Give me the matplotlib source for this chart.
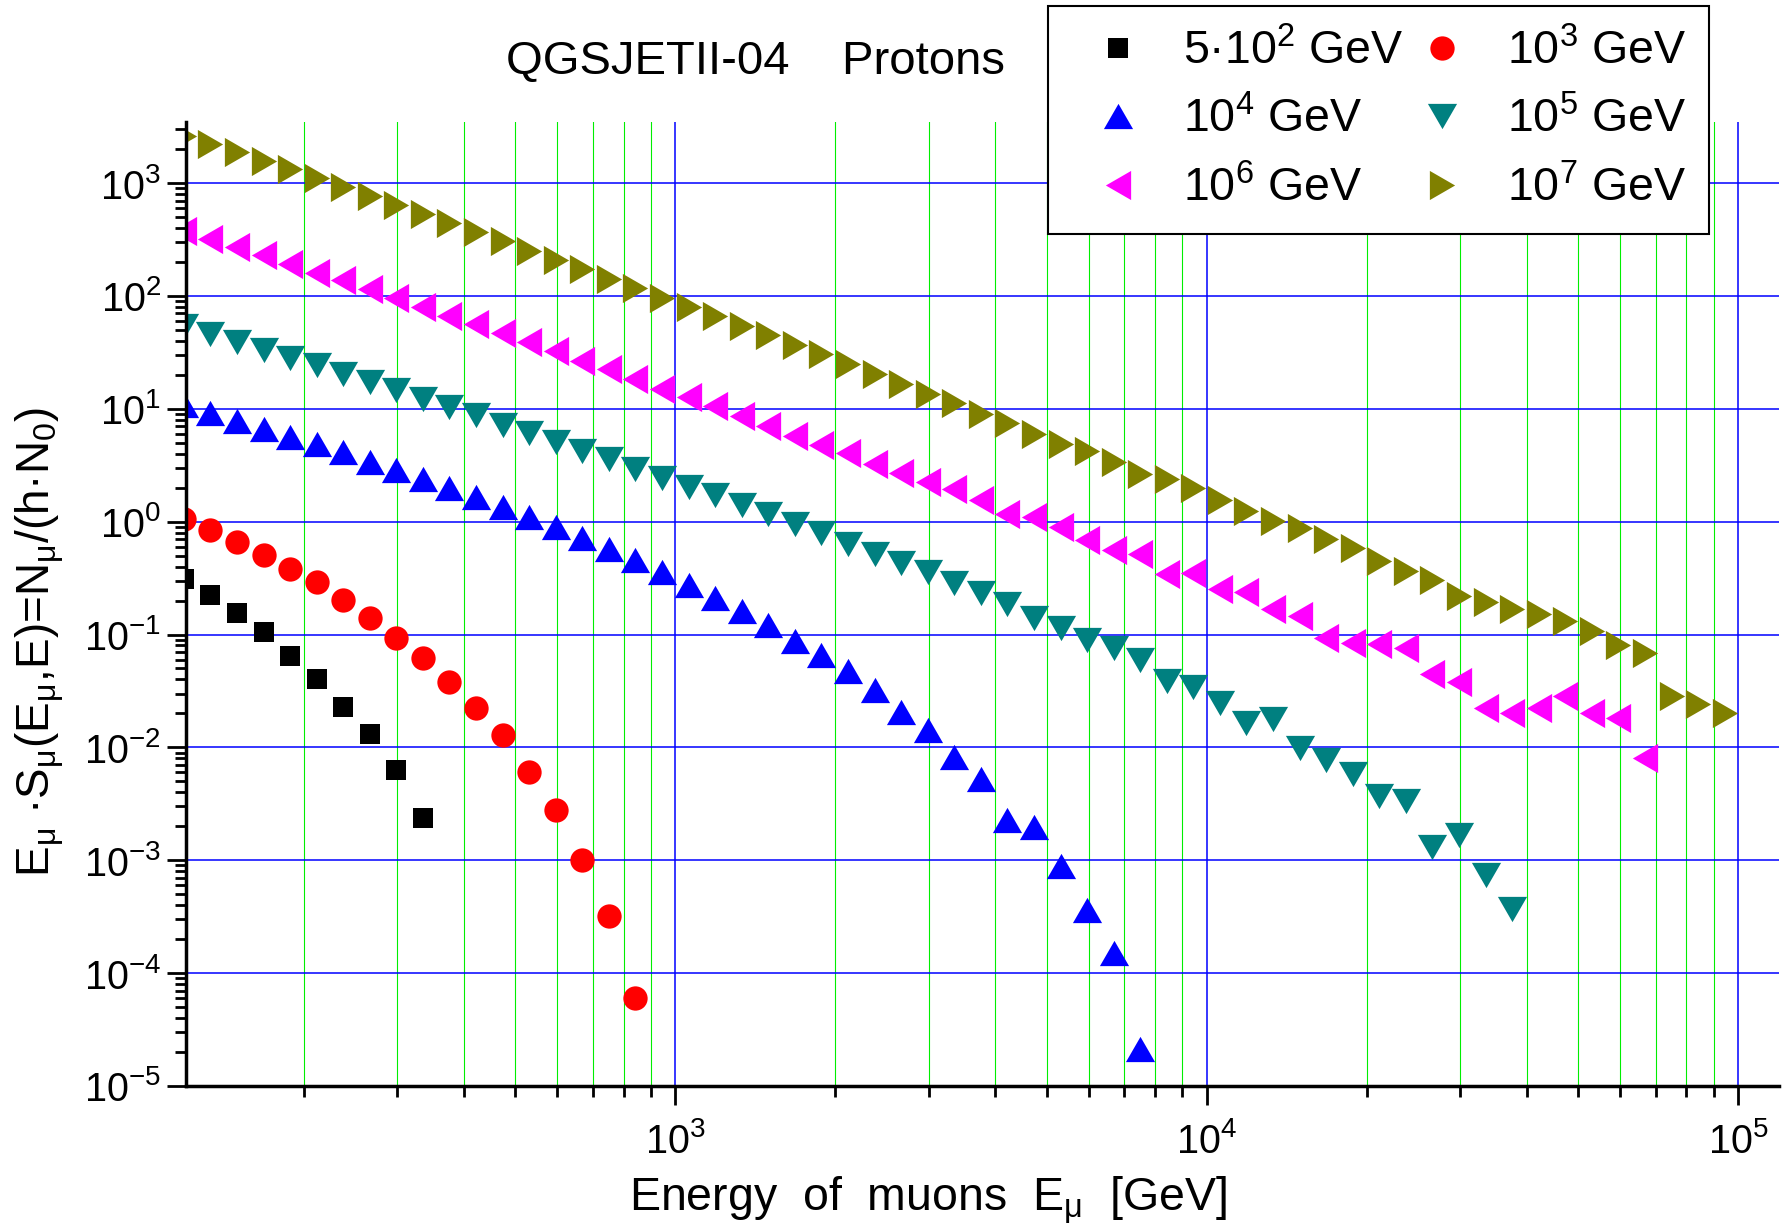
import numpy as np
import matplotlib
matplotlib.use("Agg")
import matplotlib.pyplot as plt
from matplotlib.ticker import LogLocator, NullFormatter

plt.rcParams['font.family'] = ['Liberation Sans', 'DejaVu Sans']
plt.rcParams['mathtext.fontset'] = 'custom'
plt.rcParams['mathtext.rm'] = 'Liberation Sans'
plt.rcParams['mathtext.it'] = 'Liberation Sans:italic'
plt.rcParams['mathtext.bf'] = 'Liberation Sans:bold'
plt.rcParams['axes.unicode_minus'] = False

# muon energy bins, GeV
energy = [118.9, 133.4, 149.6, 167.9, 188.4, 211.3, 237.1, 266.1, 298.5, 335.0,
          375.8, 421.7, 473.2, 530.9, 595.7, 668.3, 749.9, 841.4, 944.1, 1059.3,
          1188.5, 1333.5, 1496.2, 1678.8, 1883.6, 2113.5, 2371.4, 2660.7, 2985.4, 3349.7,
          3758.4, 4217.0, 4731.5, 5308.8, 5956.6, 6683.4, 7498.9, 8414.0, 9440.6, 10592.5,
          11885.0, 13335.2, 14962.4, 16788.0, 18836.5, 21134.9, 23713.7, 26607.3, 29853.8, 33496.5,
          37583.7, 42169.7, 47315.1, 53088.4, 59566.2, 66834.4, 74989.4, 84139.5, 94406.1]

# primary energy 5*10^2 GeV
y_5e2 = [0.31, 0.225, 0.155, 0.105, 0.065, 0.0406, 0.0226, 0.0131, 0.00624, 0.00239]

# 10^3 GeV
y_1e3 = [1.05, 0.839, 0.66, 0.507, 0.384, 0.294, 0.202, 0.141, 0.0926, 0.0615,
         0.0381, 0.0222, 0.0129, 0.00603, 0.00278, 0.00100, 3.2e-4, 6.0e-5]

# 10^4 GeV
y_1e4 = [10.7, 9.18, 7.82, 6.67, 5.68, 4.83, 4.10, 3.41, 2.88, 2.41,
         2.00, 1.65, 1.35, 1.10, 0.895, 0.722, 0.569, 0.453, 0.357, 0.277,
         0.212, 0.163, 0.122, 0.0878, 0.0662, 0.0476, 0.0321, 0.0206, 0.0143, 0.00824,
         0.00527, 0.00228, 0.00196, 8.84e-4, 3.61e-4, 1.50e-4, 2.12e-5]

# 10^5 GeV
y_1e5 = [54.0, 46.0, 39.3, 33.4, 28.4, 24.3, 20.3, 17.4, 14.7, 12.3,
         10.3, 8.75, 7.24, 6.11, 5.08, 4.23, 3.57, 2.93, 2.45, 2.03,
         1.72, 1.40, 1.17, 0.948, 0.80, 0.637, 0.514, 0.434, 0.355, 0.286,
         0.233, 0.188, 0.141, 0.115, 0.0903, 0.0752, 0.059, 0.0384, 0.034, 0.0247,
         0.0165, 0.0178, 0.0098, 0.0078, 0.00576, 0.00369, 0.00333, 0.0013, 0.00167, 7.45e-4,
         3.68e-4]

# 10^6 GeV
y_1e6 = [378, 321, 273, 229, 193, 161, 138, 115, 96.5, 80,
         67, 56, 47.2, 39.3, 32.5, 26.5, 22.4, 18.5, 15.1, 12.8,
         10.6, 8.55, 7.06, 5.78, 4.74, 4.08, 3.25, 2.71, 2.26, 1.93,
         1.56, 1.18, 1.09, 0.895, 0.686, 0.564, 0.519, 0.343, 0.351, 0.251,
         0.238, 0.169, 0.146, 0.0925, 0.0844, 0.0824, 0.0762, 0.0447, 0.0382, 0.0222,
         0.0200, 0.0222, 0.0284, 0.0200, 0.0181, 0.00807]

# 10^7 GeV
y_1e7 = [2606, 2230, 1885, 1567, 1321, 1107, 929, 767, 643, 535,
         445, 366, 304, 252, 208, 172, 141, 117, 95, 79,
         66.1, 54.1, 44.7, 36.4, 30.4, 24.8, 20.3, 16.7, 13.4, 11.3,
         9.06, 7.41, 5.92, 4.91, 4.25, 3.41, 2.62, 2.39, 1.97, 1.57,
         1.236, 1.01, 0.882, 0.695, 0.579, 0.447, 0.362, 0.303, 0.219, 0.196,
         0.169, 0.152, 0.131, 0.1085, 0.0804, 0.0684, 0.0284, 0.0241, 0.0201]

labels = ["5·10$^{2}$ GeV", "10$^{3}$ GeV", "10$^{4}$ GeV",
          "10$^{5}$ GeV", "10$^{6}$ GeV", "10$^{7}$ GeV"]

# equilateral triangles like Origin's
tri_up = [(0, 0.433), (-0.5, -0.433), (0.5, -0.433)]
tri_down = [(0, -0.433), (-0.5, 0.433), (0.5, 0.433)]
tri_left = [(-0.433, 0), (0.433, 0.5), (0.433, -0.5)]
tri_right = [(0.433, 0), (-0.433, 0.5), (-0.433, -0.5)]

series = [
    (y_5e2, 's', 15, 'black'),
    (y_1e3, 'o', 17.5, 'red'),
    (y_1e4, tri_up, 21, 'blue'),
    (y_1e5, tri_down, 21, '#008080'),
    (y_1e6, tri_left, 21, 'magenta'),
    (y_1e7, tri_right, 21, '#808000'),
]

fig = plt.figure(figsize=(17.92, 12.29), dpi=100)
ax = fig.add_axes([0.1038, 0.1164, 0.8890, 0.7846])

handles = []
for (yv, m, ms, c), lab in zip(series, labels):
    h, = ax.plot(energy[:len(yv)], yv, linestyle='none', marker=m, markersize=ms,
                 color=c, markeredgewidth=0, label=lab)
    handles.append(h)

ax.set_xscale('log')
ax.set_yscale('log')
ax.set_xlim(120, 1.195e5)
ax.set_ylim(1e-5, 3500)

ax.xaxis.set_major_locator(LogLocator(base=10, numticks=20))
ax.yaxis.set_major_locator(LogLocator(base=10, numticks=20))
ax.xaxis.set_minor_locator(LogLocator(base=10, subs=np.arange(2, 10), numticks=100))
ax.yaxis.set_minor_locator(LogLocator(base=10, subs=np.arange(2, 10), numticks=100))
ax.xaxis.set_minor_formatter(NullFormatter())
ax.yaxis.set_minor_formatter(NullFormatter())

ax.grid(True, which='major', axis='both', color='#0000ff', linewidth=1.1)
ax.grid(True, which='minor', axis='x', color='#00ee00', linewidth=0.8)
ax.set_axisbelow(True)

for s in ['top', 'right']:
    ax.spines[s].set_visible(False)
for s in ['left', 'bottom']:
    ax.spines[s].set_linewidth(2.5)

ax.tick_params(which='major', direction='out', length=14, width=2, labelsize=28.5)
ax.tick_params(which='minor', direction='out', length=8, width=2)
ax.tick_params(axis='x', which='major', pad=12)
ax.tick_params(axis='y', which='major', pad=4)

order = [0, 2, 4, 1, 3, 5]
leg = ax.legend([handles[i] for i in order], [labels[i] for i in order], ncol=2,
                loc='upper left', bbox_to_anchor=(1048 / 1792, 1 - 6 / 1229),
                bbox_transform=fig.transFigure, fontsize=33.5, frameon=True,
                fancybox=False, framealpha=1, edgecolor='black', borderpad=0.5,
                handlelength=2.02, handletextpad=0.39, labelspacing=0.5,
                columnspacing=-0.2, borderaxespad=0)
leg.get_frame().set_linewidth(1.5)

fig.text(506 / 1792, 1 - 74 / 1229, "QGSJETII-04    Protons", fontsize=34, va='baseline')
fig.text(629 / 1792, 19 / 1229, r"Energy  of  muons  E$_\mathrm{\mu}$  [GeV]",
         fontsize=33.5, va='baseline', ha='left')
fig.text(40 / 1792, 1 - 642 / 1229,
         r"E$_\mathrm{\mu}$ ·S$_\mathrm{\mu}$(E$_\mathrm{\mu}$,E)=N$_\mathrm{\mu}$/(h·N$_0$)",
         fontsize=33, rotation=90, ha='center', va='center')

fig.savefig("out.png", dpi=100)
